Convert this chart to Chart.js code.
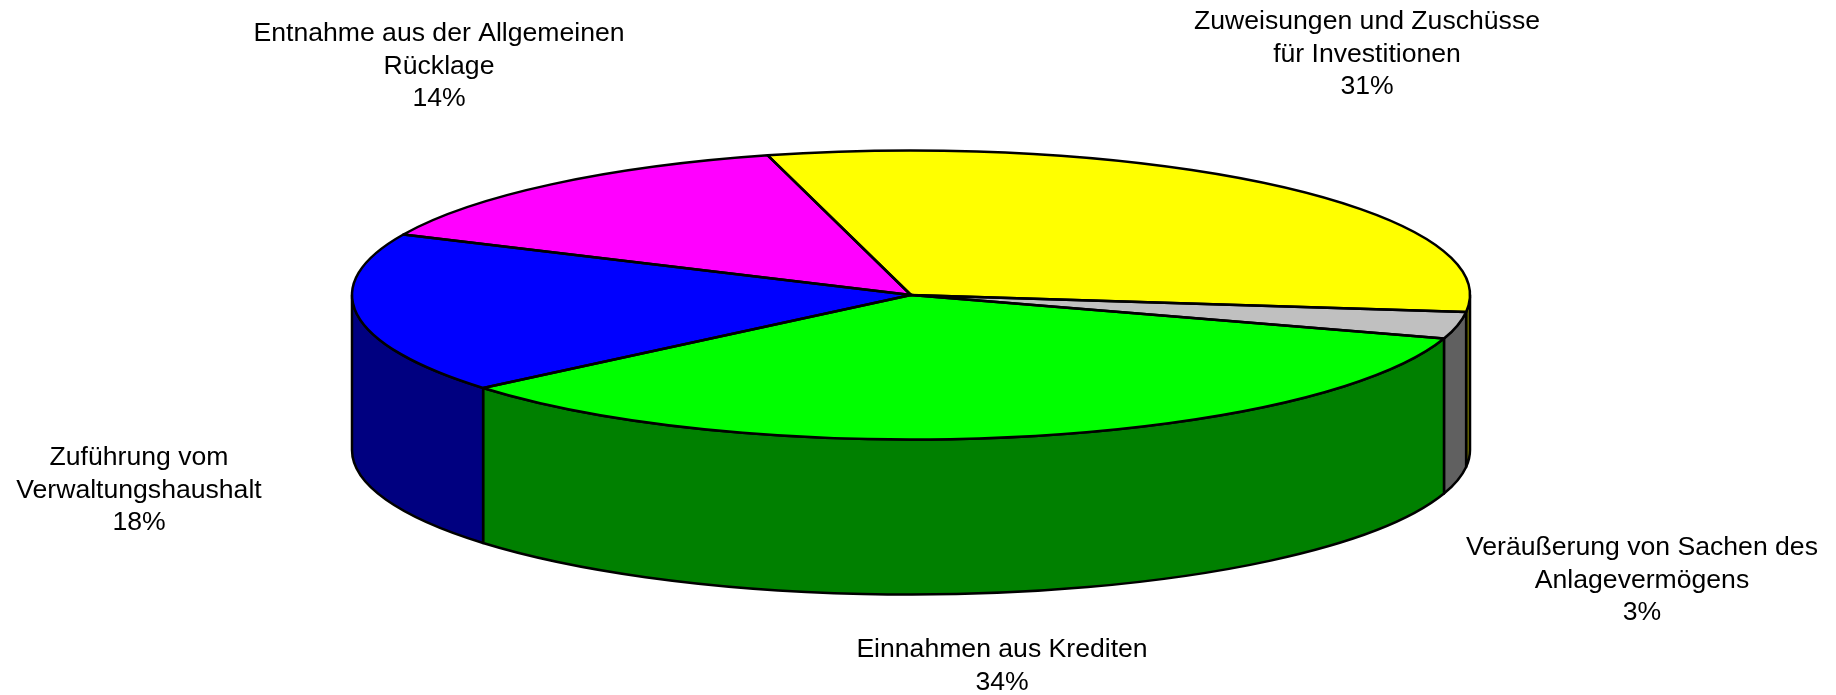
<!DOCTYPE html>
<html>
<head>
<meta charset="utf-8">
<style>
html,body{margin:0;padding:0;background:#fff;overflow:hidden}
canvas{display:block}
</style>
<script src="https://cdn.jsdelivr.net/npm/chart.js@4/dist/chart.umd.min.js"></script>
</head>
<body>
<canvas id="c" width="1836" height="695"></canvas>
<script>
const categories = [
  ["Zuweisungen und Zuschüsse", "für Investitionen"],
  ["Veräußerung von Sachen des", "Anlagevermögens"],
  ["Einnahmen aus Krediten"],
  ["Zuführung vom", "Verwaltungshaushalt"],
  ["Entnahme aus der Allgemeinen", "Rücklage"]
];
const values = [31, 3, 34, 18, 14];
const topColors = ["#ffff00", "#c0c0c0", "#00ff00", "#0000ff", "#ff00ff"];
const wallColors = ["#808000", "#606060", "#008000", "#000080", "#800080"];

// layout of the tilted pie and its labels (not data)
const RX = 559, RY = 144.5, DEPTH = 155;
const labelAnchors = [[1367, 29], [1642, 555], [1002, 657], [139, 465], [439, 41]];
const LINE_GAP = 32.7;
const STROKE = 2.5;

const tiltPlugin = {
  id: 'tilt',
  beforeDatasetDraw(chart, args) {
    const ctx = chart.ctx;
    const arcs = chart.getDatasetMeta(args.index).data;
    const {x: cx, y: cy, outerRadius: r} = arcs[0].getProps(['x', 'y', 'outerRadius'], true);
    // side walls: only the front half of the rim is visible
    ctx.save();
    ctx.lineWidth = STROKE;
    ctx.strokeStyle = '#000';
    ctx.lineJoin = 'round';
    arcs.forEach((arc, i) => {
      const {startAngle: a0, endAngle: a1} = arc.getProps(['startAngle', 'endAngle'], true);
      for (let k = -1; k <= 1; k++) {
        const lo = Math.max(a0 + 2 * Math.PI * k, 0);
        const hi = Math.min(a1 + 2 * Math.PI * k, Math.PI);
        if (lo >= hi) continue;
        ctx.beginPath();
        ctx.ellipse(cx, cy, RX, RY, 0, lo, hi);
        ctx.lineTo(cx + RX * Math.cos(hi), cy + RY * Math.sin(hi) + DEPTH);
        ctx.ellipse(cx, cy + DEPTH, RX, RY, 0, hi, lo, true);
        ctx.closePath();
        ctx.fillStyle = wallColors[i];
        ctx.fill();
        ctx.stroke();
      }
    });
    ctx.restore();
    // squash the library's circular pie into the top ellipse
    ctx.save();
    ctx.translate(cx, cy);
    ctx.scale(RX / r, RY / r);
    ctx.translate(-cx, -cy);
  },
  afterDatasetDraw(chart, args) {
    const ctx = chart.ctx;
    ctx.restore();
    const arcs = chart.getDatasetMeta(args.index).data;
    ctx.save();
    ctx.lineWidth = STROKE;
    ctx.strokeStyle = '#000';
    ctx.lineJoin = 'round';
    arcs.forEach(arc => {
      const {x: cx, y: cy, startAngle: a0, endAngle: a1} = arc.getProps(['x', 'y', 'startAngle', 'endAngle'], true);
      ctx.beginPath();
      ctx.moveTo(cx, cy);
      ctx.ellipse(cx, cy, RX, RY, 0, a0, a1);
      ctx.closePath();
      ctx.stroke();
    });
    ctx.restore();
  },
  afterDraw(chart) {
    const ctx = chart.ctx;
    ctx.save();
    ctx.fillStyle = '#000';
    ctx.font = '26.6px "Liberation Sans", Arial, sans-serif';
    ctx.textAlign = 'center';
    ctx.textBaseline = 'alphabetic';
    categories.forEach((lines, i) => {
      const [x, y] = labelAnchors[i];
      [...lines, values[i] + '%'].forEach((t, j) => ctx.fillText(t, x, y + j * LINE_GAP));
    });
    ctx.restore();
  }
};

new Chart(document.getElementById('c'), {
  type: 'pie',
  data: {
    labels: categories.map(l => l.join(' ')),
    datasets: [{
      data: values,
      backgroundColor: topColors,
      borderWidth: 0
    }]
  },
  options: {
    responsive: false,
    animation: false,
    rotation: -14.85,
    layout: {padding: {left: 0, right: 14, top: 0, bottom: 105}},
    plugins: {legend: {display: false}, tooltip: {enabled: false}}
  },
  plugins: [tiltPlugin]
});
</script>
</body>
</html>
